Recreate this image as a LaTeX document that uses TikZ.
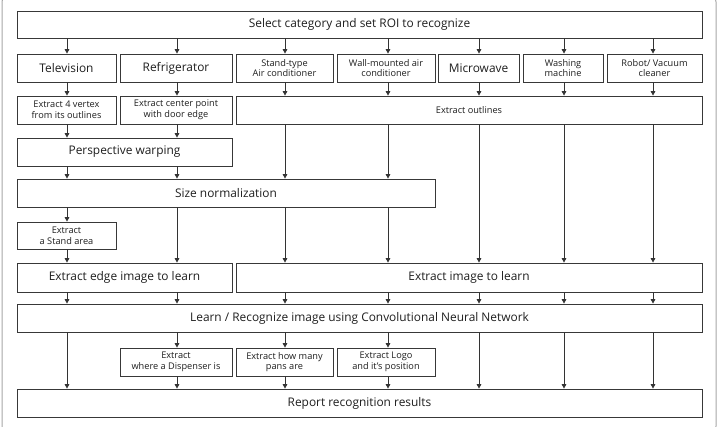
\documentclass[tikz,border=0pt]{standalone}
\usepackage{fontspec}
\setmainfont{Open Sans}
\usetikzlibrary{arrows.meta,calc}
\begin{document}
\begin{tikzpicture}[x=1pt,y=-1pt,
  box/.style={draw=black!78,line width=0.9pt,fill=white,inner sep=1pt,align=center,text=black!88,minimum height=28pt},
  big/.style={font=\fontsize{11.9}{13.5}\selectfont},
  small/.style={font=\fontsize{9.2}{10.6}\selectfont},
  arr/.style={draw=black!80,line width=0.8pt,-{Triangle[width=4.6pt,length=4.4pt]}}]
\useasboundingbox (0,0) rectangle (719,426);
\draw[black!35,line width=1pt,rounded corners=10pt] (2,-8) rectangle (716,436);
% columns
\coordinate (c1) at (67,0);
\coordinate (c2) at (177,0);
\coordinate (c3) at (285,0);
\coordinate (c4) at (388,0);
\coordinate (c5) at (479,0);
\coordinate (c6) at (564,0);
\coordinate (c7) at (653,0);
% row 1
\node[box,big,minimum width=685pt,minimum height=27pt] (sel) at (359.5,24.5) {Select category and set ROI to recognize};
% row 2
\node[box,big,minimum width=99pt] (tv) at (66.5,68) {Television};
\node[box,big,minimum width=112pt] (ref) at (176,68) {Refrigerator};
\node[box,small,minimum width=97pt] (stand) at (284.5,68) {Stand-type\\Air conditioner};
\node[box,small,minimum width=98pt] (wall) at (386,68) {Wall-mounted air\\conditioner};
\node[box,big,minimum width=81pt] (micro) at (478.5,68) {Microwave};
\node[box,small,minimum width=80pt] (wash) at (563,68) {Washing\\machine};
\node[box,small,minimum width=95pt] (robot) at (654.5,68) {Robot/ Vacuum\\cleaner};
% row 3
\node[box,small,minimum width=99pt] (vert) at (66.5,110) {Extract 4 vertex\\from its outlines};
\node[box,small,minimum width=112pt] (cent) at (176,110) {Extract center point\\with door edge};
\node[box,small,minimum width=466pt] (outl) at (469,110) {Extract outlines};
% row 4
\node[box,big,minimum width=215pt] (persp) at (124.5,152) {Perspective warping};
% row 5
\node[box,big,minimum width=418pt] (size) at (226,193) {Size normalization};
% row 6
\node[box,small,minimum width=99pt,minimum height=27pt] (stnd) at (66.5,235.5) {Extract\\a Stand area};
% row 7
\node[box,big,minimum width=215pt,minimum height=29pt] (edge) at (124.5,277.5) {Extract edge image to learn};
\node[box,big,minimum width=466pt,minimum height=29pt] (img) at (469,277.5) {Extract image to learn};
% row 8
\node[box,big,minimum width=685pt] (learn) at (359.5,318) {Learn / Recognize image using Convolutional Neural Network};
% row 9
\node[box,small,minimum width=112pt] (disp) at (176,362) {Extract\\where a Dispenser is};
\node[box,small,minimum width=97pt] (pans) at (284.5,362) {Extract how many\\pans are};
\node[box,small,minimum width=98pt] (logo) at (386,362) {Extract Logo\\and it's position};
% row 10
\node[box,big,minimum width=685pt] (rep) at (359.5,403) {Report recognition results};
% arrows: select -> categories
\draw[arr] (c1 |- sel.south) -- (c1 |- tv.north);
\draw[arr] (c2 |- sel.south) -- (c2 |- ref.north);
\draw[arr] (c3 |- sel.south) -- (c3 |- stand.north);
\draw[arr] (c4 |- sel.south) -- (c4 |- wall.north);
\draw[arr] (c5 |- sel.south) -- (c5 |- micro.north);
\draw[arr] (c6 |- sel.south) -- (c6 |- wash.north);
\draw[arr] (c7 |- sel.south) -- (c7 |- robot.north);
% categories -> row 3
\draw[arr] (c1 |- tv.south) -- (c1 |- vert.north);
\draw[arr] (c2 |- ref.south) -- (c2 |- cent.north);
\draw[arr] (c3 |- stand.south) -- (c3 |- outl.north);
\draw[arr] (c4 |- wall.south) -- (c4 |- outl.north);
\draw[arr] (c5 |- micro.south) -- (c5 |- outl.north);
\draw[arr] (c6 |- wash.south) -- (c6 |- outl.north);
\draw[arr] (c7 |- robot.south) -- (c7 |- outl.north);
% row 3 -> persp / size / img
\draw[arr] (c1 |- vert.south) -- (c1 |- persp.north);
\draw[arr] (c2 |- cent.south) -- (c2 |- persp.north);
\draw[arr] (c3 |- outl.south) -- (c3 |- size.north);
\draw[arr] (c4 |- outl.south) -- (c4 |- size.north);
\draw[arr] (c5 |- outl.south) -- (c5 |- img.north);
\draw[arr] (c6 |- outl.south) -- (c6 |- img.north);
\draw[arr] (c7 |- outl.south) -- (c7 |- img.north);
% persp -> size
\draw[arr] (c1 |- persp.south) -- (c1 |- size.north);
\draw[arr] (c2 |- persp.south) -- (c2 |- size.north);
% size -> next
\draw[arr] (c1 |- size.south) -- (c1 |- stnd.north);
\draw[arr] (c2 |- size.south) -- (c2 |- edge.north);
\draw[arr] (c3 |- size.south) -- (c3 |- img.north);
\draw[arr] (c4 |- size.south) -- (c4 |- img.north);
\draw[arr] (c1 |- stnd.south) -- (c1 |- edge.north);
% -> learn
\draw[arr] (c1 |- edge.south) -- (c1 |- learn.north);
\draw[arr] (c2 |- edge.south) -- (c2 |- learn.north);
\draw[arr] (c3 |- img.south) -- (c3 |- learn.north);
\draw[arr] (c4 |- img.south) -- (c4 |- learn.north);
\draw[arr] (c5 |- img.south) -- (c5 |- learn.north);
\draw[arr] (c6 |- img.south) -- (c6 |- learn.north);
\draw[arr] (c7 |- img.south) -- (c7 |- learn.north);
% learn -> row 9 / report
\draw[arr] (c1 |- learn.south) -- (c1 |- rep.north);
\draw[arr] (c2 |- learn.south) -- (c2 |- disp.north);
\draw[arr] (c3 |- learn.south) -- (c3 |- pans.north);
\draw[arr] (c4 |- learn.south) -- (c4 |- logo.north);
\draw[arr] (c5 |- learn.south) -- (c5 |- rep.north);
\draw[arr] (c6 |- learn.south) -- (c6 |- rep.north);
\draw[arr] (c7 |- learn.south) -- (c7 |- rep.north);
\draw[arr] (c2 |- disp.south) -- (c2 |- rep.north);
\draw[arr] (c3 |- pans.south) -- (c3 |- rep.north);
\draw[arr] (c4 |- logo.south) -- (c4 |- rep.north);
\end{tikzpicture}
\end{document}
